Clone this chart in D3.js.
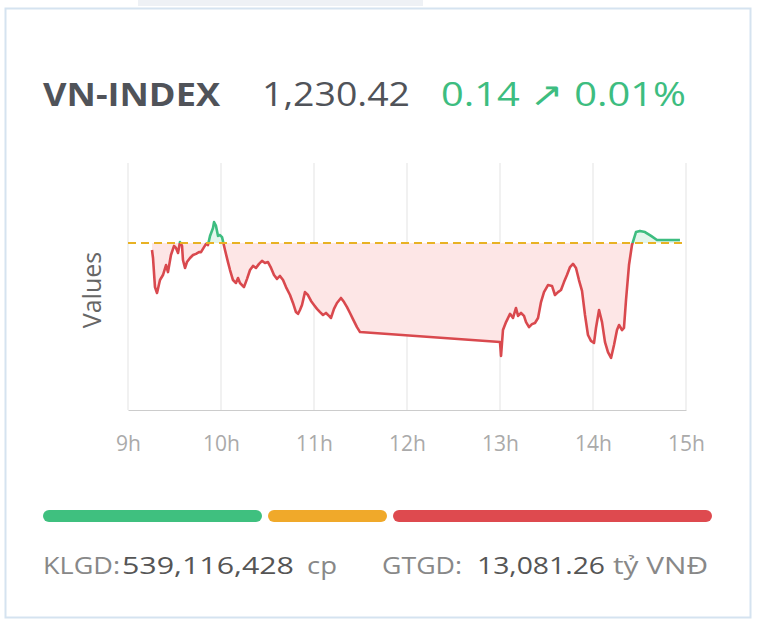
<!DOCTYPE html>
<html><head><meta charset="utf-8">
<script src="https://cdn.jsdelivr.net/npm/d3@7/dist/d3.min.js"></script>
<style>body{margin:0;background:#fff;font-family:"Open Sans","Noto Sans",sans-serif}</style>
</head><body><svg id="c" width="757" height="621"></svg>
<script>
const refValue = 1230.28;
const hourTicks = [9,10,11,12,13,14,15];
const tickLabels = ["9h","10h","11h","12h","13h","14h","15h"];
// pixel-read samples converted: time (hours), value (index points)
const px = [[152,250],[153,258],[155,287],[157,293],[160,280],[163,275],[166,265],[168,272],[171,255],[174,246],[176,248],[178,253],[180,242],[182,246],[183,260],[185,268],[187,262],[190,258],[193,255],[196,254],[199,252],[201,252],[203,249],[206,244],[208,245],[210,236],[213,228],[214,222],[216,226],[218,236],[220,235],[222,237],[225,250],[228,262],[230,270],[233,280],[236,283],[238,278],[240,283],[244,287],[247,279],[250,270],[253,266],[256,268],[259,264],[262,261],[265,263],[268,262],[271,268],[274,275],[277,279],[280,276],[283,280],[286,287],[290,295],[293,303],[296,312],[298,314],[300,310],[302,305],[305,292],[308,295],[311,301],[314,305],[317,309],[320,312],[323,315],[326,313],[329,316],[331,318],[334,309],[337,303],[341,298],[344,302],[347,307],[350,313],[353,319],[357,327],[360,332],[500,342],[501,356],[503,330],[506,322],[510,314],[513,318],[516,308],[518,316],[521,313],[524,316],[526,322],[529,327],[532,324],[535,323],[538,318],[541,302],[544,292],[548,285],[552,286],[555,295],[558,292],[561,290],[564,282],[567,275],[570,267],[573,264],[576,268],[579,280],[582,291],[585,315],[588,335],[591,341],[594,343],[596,328],[599,310],[602,322],[605,342],[608,352],[611,358],[614,345],[617,330],[619,325],[622,330],[624,328],[626,300],[629,265],[632,245],[636,232],[640,231],[645,232],[651,236],[657,240],[663,240],[680,240]];
const times = px.map(p => +(9 + (p[0]-128)/93).toFixed(3));
const values = px.map(p => +(refValue - (p[1]-243)/29.4).toFixed(2));

const svg = d3.select("#c");
svg.append("rect").attr("x",138).attr("y",0).attr("width",285).attr("height",6).attr("fill","#eef1f5");
svg.append("rect").attr("x",5.5).attr("y",8.5).attr("width",745).attr("height",609).attr("fill","#fff").attr("stroke","#d5e3f0").attr("stroke-width",2);

function txt(xp,yp,s,size,fill,len,weight){
  return svg.append("text").attr("x",xp).attr("y",yp).attr("font-size",size).attr("fill",fill)
   .attr("font-weight",weight||"normal").attr("textLength",len).attr("lengthAdjust","spacingAndGlyphs").text(s);
}
txt(43,106,"VN-INDEX",33,"#505359",177,"bold");
txt(262,106,"1,230.42",33,"#505359",148);
txt(441,106,"0.14 ↗ 0.01%",33,"#3dbd80",245);

const x = d3.scaleLinear().domain([9,15]).range([128,686]);
const y = d3.scaleLinear().domain([1224.6,1233]).range([410,163]);
const data = times.map((t,i)=>({t,v:values[i]}));
const ry = y(refValue);

svg.append("g").selectAll("line").data(hourTicks).join("line")
 .attr("x1",d=>x(d)).attr("x2",d=>x(d)).attr("y1",163).attr("y2",410).attr("stroke","#e3e3e3");
const ax = svg.append("g").attr("transform","translate(0,410)").call(d3.axisBottom(x).tickValues(hourTicks).tickFormat((d,i)=>tickLabels[i]).tickSize(0).tickPadding(26));
ax.select(".domain").attr("stroke","#ccc");
ax.selectAll("text").attr("font-size",21).attr("fill","#aaa").attr("font-family","Open Sans, sans-serif");
svg.append("text").attr("transform","translate(101,290) rotate(-90)").attr("text-anchor","middle").attr("font-size",25).attr("fill","#666").text("Values");

const defs = svg.append("defs");
defs.append("clipPath").attr("id","below").append("rect").attr("x",0).attr("y",ry).attr("width",757).attr("height",300);
defs.append("clipPath").attr("id","above").append("rect").attr("x",0).attr("y",0).attr("width",757).attr("height",ry);
const area = d3.area().x(d=>x(d.t)).y0(ry).y1(d=>y(d.v));
svg.append("path").datum(data).attr("d",area).attr("fill","#fde6e6").attr("clip-path","url(#below)");
svg.append("path").datum(data).attr("d",area).attr("fill","#e3f6ec").attr("clip-path","url(#above)");
const line = d3.line().x(d=>x(d.t)).y(d=>y(d.v));
svg.append("path").datum(data).attr("d",line).attr("fill","none").attr("stroke","#d9494e").attr("stroke-width",2.6).attr("stroke-linejoin","round").attr("clip-path","url(#below)");
svg.append("path").datum(data).attr("d",line).attr("fill","none").attr("stroke","#3dbd80").attr("stroke-width",2.6).attr("stroke-linejoin","round").attr("clip-path","url(#above)");
svg.append("line").attr("x1",128).attr("x2",686).attr("y1",ry).attr("y2",ry).attr("stroke","#e8b224").attr("stroke-width",2).attr("stroke-dasharray","8,5");

const bars = [[43,262,"#3fc07f"],[268,387,"#f0a92a"],[393,712,"#de4a4f"]];
svg.selectAll(".b").data(bars).join("rect").attr("x",d=>d[0]).attr("width",d=>d[1]-d[0]).attr("y",510).attr("height",12).attr("rx",6).attr("fill",d=>d[2]);

const foot = [[43,"KLGD:","#888",77],[122,"539,116,428","#555",172],[307,"cp","#888",30],[382,"GTGD:","#888",80],[477,"13,081.26","#555",128],[613,"tỷ VNĐ","#888",95]];
foot.forEach(f=>txt(f[0],574,f[1],24,f[2],f[3]));
</script></body></html>
